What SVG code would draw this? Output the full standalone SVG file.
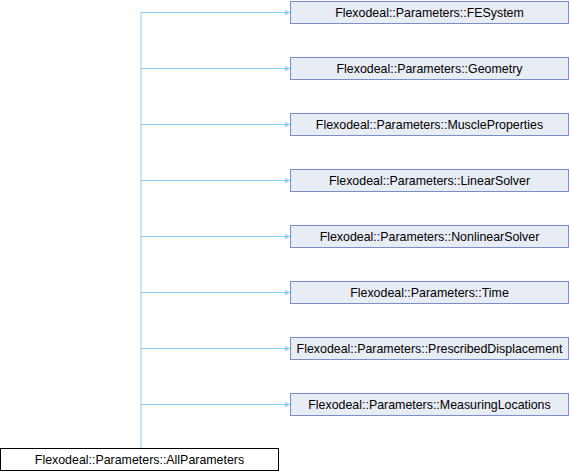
<svg xmlns="http://www.w3.org/2000/svg" width="570" height="472" viewBox="0 0 570 472">
<defs>
<style>
.n rect{fill:#e8ecf5;stroke:#7b8ec8;stroke-width:1}
.root rect{fill:#ffffff;stroke:#000000;stroke-width:1}
text{font-family:"Liberation Sans",Arial,sans-serif;font-size:12.4px;fill:#000;text-anchor:middle}
.e{stroke:#8ccaee;stroke-width:1;fill:none}
</style>
<marker id="ah" markerWidth="6" markerHeight="6" refX="5" refY="3" orient="auto" markerUnits="userSpaceOnUse">
<path d="M0,0.5 L5,3 L0,5.5 Z" fill="#8ccaee"/>
</marker>
</defs>
<g id="connectors">
<path class="e" d="M141,448 V12.5"/>
<path class="e" d="M141,12.5 H290" marker-end="url(#ah)"/>
<path class="e" d="M141,68.5 H290" marker-end="url(#ah)"/>
<path class="e" d="M141,124.5 H290" marker-end="url(#ah)"/>
<path class="e" d="M141,180.5 H290" marker-end="url(#ah)"/>
<path class="e" d="M141,236.5 H290" marker-end="url(#ah)"/>
<path class="e" d="M141,292.5 H290" marker-end="url(#ah)"/>
<path class="e" d="M141,348.5 H290" marker-end="url(#ah)"/>
<path class="e" d="M141,404.5 H290" marker-end="url(#ah)"/>
</g>
<g id="fesystem" class="n"><rect x="290.5" y="1.5" width="278" height="22"/><text x="429.5" y="17">Flexodeal::Parameters::FESystem</text></g>
<g id="geometry" class="n"><rect x="290.5" y="57.5" width="278" height="22"/><text x="429.5" y="73">Flexodeal::Parameters::Geometry</text></g>
<g id="muscleproperties" class="n"><rect x="290.5" y="113.5" width="278" height="22"/><text x="429.5" y="129">Flexodeal::Parameters::MuscleProperties</text></g>
<g id="linearsolver" class="n"><rect x="290.5" y="169.5" width="278" height="22"/><text x="429.5" y="185">Flexodeal::Parameters::LinearSolver</text></g>
<g id="nonlinearsolver" class="n"><rect x="290.5" y="225.5" width="278" height="22"/><text x="429.5" y="241">Flexodeal::Parameters::NonlinearSolver</text></g>
<g id="time" class="n"><rect x="290.5" y="281.5" width="278" height="22"/><text x="429.5" y="297">Flexodeal::Parameters::Time</text></g>
<g id="prescribeddisplacement" class="n"><rect x="290.5" y="337.5" width="278" height="22"/><text x="429.5" y="353">Flexodeal::Parameters::PrescribedDisplacement</text></g>
<g id="measuringlocations" class="n"><rect x="290.5" y="393.5" width="278" height="22"/><text x="429.5" y="409">Flexodeal::Parameters::MeasuringLocations</text></g>
<g id="allparameters" class="root"><rect x="0.5" y="448.5" width="278" height="22"/><text x="139.5" y="464">Flexodeal::Parameters::AllParameters</text></g>
</svg>
